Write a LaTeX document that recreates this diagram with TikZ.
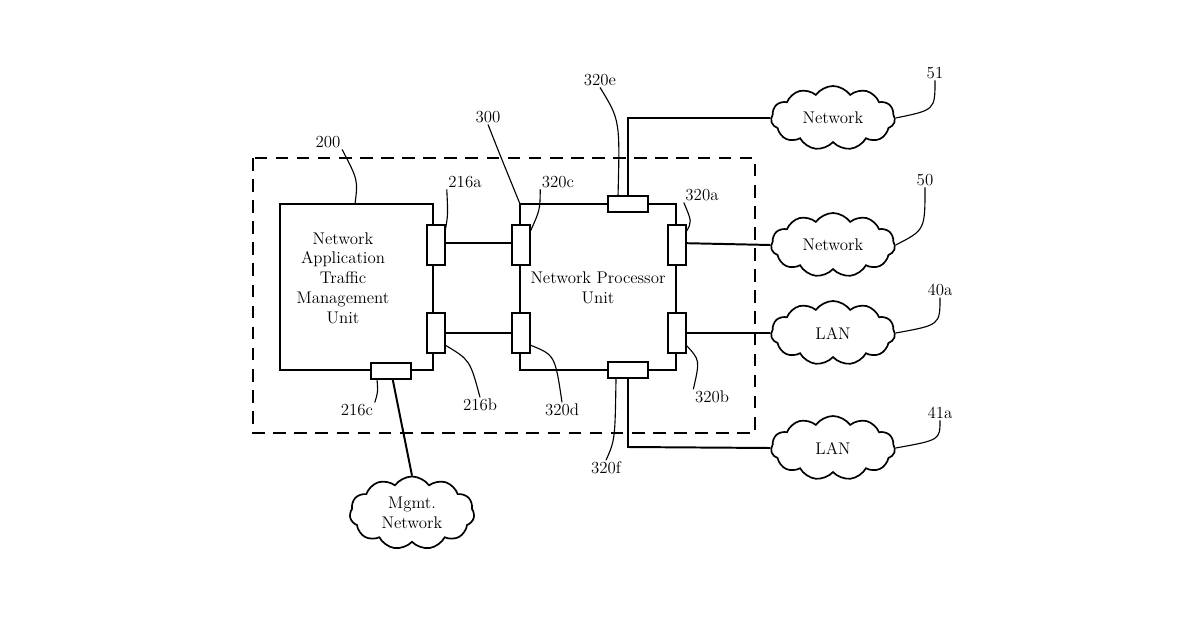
\documentclass[tikz,border=0pt]{standalone}
\usepackage{tikz}
\usetikzlibrary{shapes.symbols,positioning,calc}
\tikzset{
  unitbox/.style={draw, line width=1.6pt},
  portbox/.style={draw, fill=white, line width=1.4pt, inner sep=0pt},
  vport/.style={portbox, minimum width=0.45cm, minimum height=1cm},
  hport/.style={portbox, minimum width=1cm, minimum height=0.4cm},
  netcloud/.style={draw, line width=1.2pt, cloud, cloud puffs=11, cloud puff arc=110, aspect=2.1, minimum width=3.1cm, minimum height=1.6cm, align=center, font=\large},
  link/.style={line width=1.4pt},
  leader/.style={line width=0.8pt},
  reflabel/.style={font=\large, inner sep=1pt}
}
\begin{document}
\begin{tikzpicture}[x=0.025cm, y=-0.025cm]
\useasboundingbox (0,0) rectangle (1200,630);
% dashed enclosure
\draw[dashed, line width=1.4pt, dash pattern=on 9pt off 6pt] (253,158) rectangle (755,433);
% units
\draw[unitbox] (280,204) rectangle (433,370);
\node[align=center, font=\large] (natmu) at (343,278) {Network\\Application\\Traffic\\Management\\Unit};
\draw[unitbox] (520,204) rectangle (676,370);
\node[align=center, font=\large] (npu) at (598,288) {Network Processor\\Unit};
% clouds
\node[netcloud] (net51) at (833,118) {Network};
\node[netcloud] (net50) at (833,245) {Network};
\node[netcloud] (lan40a) at (833,333) {LAN};
\node[netcloud] (lan41a) at (833,448) {LAN};
\node[netcloud, minimum height=1.8cm] (mgmt) at (412,513) {Mgmt.\\Network};
% links
\draw[link] (436,243) -- (521,243);
\draw[link] (436,333) -- (521,333);
\draw[link] (677,243) -- (net50.west);
\draw[link] (677,333) -- (lan40a.west);
\draw[link] (628,204) -- (628,118) -- (net51.west);
\draw[link] (628,370) -- (628,447) -- (lan41a.west);
\draw[link] (391,371) -- (mgmt.north);
% ports
\node[vport] (p216a) at (436,245) {};
\node[vport] (p216b) at (436,333) {};
\node[hport] (p216c) at (391,371) {};
\node[vport] (p320c) at (521,245) {};
\node[vport] (p320d) at (521,333) {};
\node[vport] (p320a) at (677,245) {};
\node[vport] (p320b) at (677,333) {};
\node[hport] (p320e) at (628,204) {};
\node[hport] (p320f) at (628,370) {};
% reference labels
\node[reflabel] (l200) at (328,142) {200};
\node[reflabel] (l300) at (488,117) {300};
\node[reflabel] (l216a) at (465,182) {216a};
\node[reflabel] (l320c) at (558,182) {320c};
\node[reflabel] (l320e) at (600,80) {320e};
\node[reflabel] (l320a) at (702,195) {320a};
\node[reflabel] (l51) at (935,73) {51};
\node[reflabel] (l50) at (925,180) {50};
\node[reflabel] (l40a) at (940,290) {40a};
\node[reflabel] (l41a) at (940,413) {41a};
\node[reflabel] (l216c) at (357,410) {216c};
\node[reflabel] (l216b) at (480,405) {216b};
\node[reflabel] (l320d) at (562,410) {320d};
\node[reflabel] (l320b) at (712,397) {320b};
\node[reflabel] (l320f) at (606,468) {320f};
% leaders
\draw[leader] (l200.south east) .. controls (358,180) .. (355,204);
\draw[leader] (l300.south) .. controls (498,150) .. (520,204);
\draw[leader] (l216a.south west) .. controls (448,215) .. (445,232);
\draw[leader] (l320c.south west) .. controls (540,210) .. (530,232);
\draw[leader] (l320e.south) .. controls (620,120) .. (618,196);
\draw[leader] (l320a.south west) .. controls (692,222) .. (686,232);
\draw[leader] (l51.south) .. controls (935,110) .. (net51.east);
\draw[leader] (l50.south) .. controls (925,230) .. (net50.east);
\draw[leader] (l40a.south) .. controls (940,325) .. (lan40a.east);
\draw[leader] (l41a.south) .. controls (940,440) .. (lan41a.east);
\draw[leader] (l216c.north east) .. controls (378,392) .. (377,379);
\draw[leader] (l216b.north) .. controls (470,360) .. (445,345);
\draw[leader] (l320d.north) .. controls (555,355) .. (530,345);
\draw[leader] (l320b.north west) .. controls (700,360) .. (686,345);
\draw[leader] (l320f.north) .. controls (615,440) .. (616,379);
\end{tikzpicture}
\end{document}
